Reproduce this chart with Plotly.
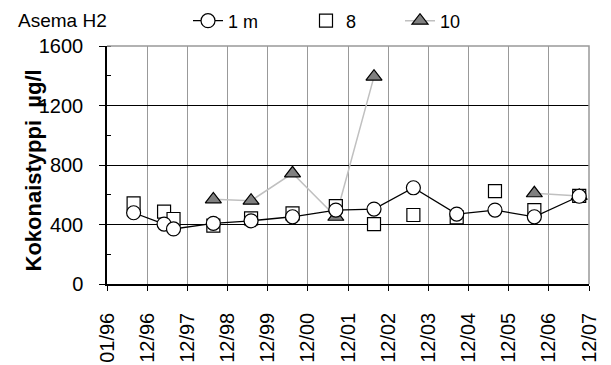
import plotly.graph_objects as go

dates = ["1996-08-30", "1997-06-03", "1997-08-28", "1998-08-25", "1999-08-03",
         "2000-08-14", "2001-09-12", "2002-08-25", "2003-08-18", "2004-09-15",
         "2005-08-29", "2006-08-22", "2007-10-04"]
m1 = [479, 403, 370, 408, 425, 452, 497, 504, 647, 470, 497, 452, 590]
m8 = [542, 486, 437, 392, 441, 475, 524, 403, 464, 448, 625, 497, 592]
m10 = [None, None, None, 569, 560, 744, 452, 1394, None, None, None, 610, 592]

tick_vals = ["1996-01-01", "1997-01-01", "1998-01-01", "1999-01-01", "2000-01-01",
             "2001-01-01", "2002-01-01", "2003-01-01", "2004-01-01", "2005-01-01",
             "2006-01-01", "2007-01-01", "2008-01-01"]
tick_text = ["01/96", "12/96", "12/97", "12/98", "12/99", "12/00", "12/01",
             "12/02", "12/03", "12/04", "12/05", "12/06", "12/07"]
y_ticks = [0, 400, 800, 1200, 1600]

FONT = "Liberation Sans, Arial, sans-serif"

fig = go.Figure()
fig.add_trace(go.Scatter(
    x=dates, y=m10, name="10", mode="lines+markers", connectgaps=False,
    line=dict(color="#c0c0c0", width=1.5),
    marker=dict(symbol="triangle-up", size=14, color="#808080",
                line=dict(color="black", width=1.2)),
    legend="legend3", showlegend=True))
fig.add_trace(go.Scatter(
    x=dates, y=m8, name="8", mode="markers",
    marker=dict(symbol="square", size=13, color="white",
                line=dict(color="black", width=1.2)),
    legend="legend2", showlegend=True))
fig.add_trace(go.Scatter(
    x=dates, y=m1, name="1 m", mode="lines+markers",
    line=dict(color="black", width=1.3),
    marker=dict(symbol="circle", size=14, color="white",
                line=dict(color="black", width=1.2)),
    legend="legend", showlegend=True))

leg_common = dict(xref="container", yref="container", xanchor="left",
                  yanchor="middle", bgcolor="rgba(0,0,0,0)",
                  font=dict(family=FONT, size=18, color="black"),
                  orientation="h")

fig.update_layout(
    width=611, height=365, showlegend=True,
    margin=dict(l=107, r=22, t=46, b=81, autoexpand=False),
    paper_bgcolor="white", plot_bgcolor="white",
    font=dict(family=FONT, size=20, color="black"),
    legend=dict(x=188/611, y=1 - 21/365, **leg_common),
    legend2=dict(x=306/611, y=1 - 21/365, **leg_common),
    legend3=dict(x=400/611, y=1 - 21/365, **leg_common),
    xaxis=dict(type="date", range=["1996-01-01", "2008-01-01"],
               tickmode="array", tickvals=tick_vals, ticktext=tick_text,
               tickangle=-90, ticks="outside", ticklen=5, tickcolor="black",
               showline=True, linecolor="black", linewidth=1.5,
               showgrid=True, gridcolor="#999999", gridwidth=1.3,
               zeroline=False, ticklabelstandoff=14,
               tickfont=dict(family=FONT, size=20, color="black")),
    yaxis=dict(range=[0, 1600], tickmode="array", tickvals=y_ticks,
               ticks="outside", ticklen=6, tickcolor="black",
               showline=True, linecolor="black", linewidth=1.5,
               showgrid=True, gridcolor="black", gridwidth=1.2,
               zeroline=False, ticklabelstandoff=12,
               minor=dict(dtick=200, ticks="inside", ticklen=4,
                          tickcolor="black", showgrid=False),
               tickfont=dict(family=FONT, size=20, color="black")),
    shapes=[dict(type="path", xref="paper", yref="paper",
                 path="M 0 1 L 1 1 L 1 0", line=dict(color="#999999", width=1.5),
                 layer="above")],
    annotations=[
        dict(text="Asema H2", xref="paper", yref="paper",
             x=(16 - 107) / 482, y=(284 - 21) / 238, xanchor="left",
             yanchor="middle", showarrow=False,
             font=dict(family=FONT, size=19, color="black")),
        dict(text="<b>Kokonaistyppi  µg/l</b>", xref="paper", yref="paper",
             x=(33 - 107) / 482, y=(284 - 170.5) / 238, xanchor="center",
             yanchor="middle", textangle=-90, showarrow=False,
             font=dict(family=FONT, size=22, color="black")),
    ],
)

fig.write_html("out.html")
